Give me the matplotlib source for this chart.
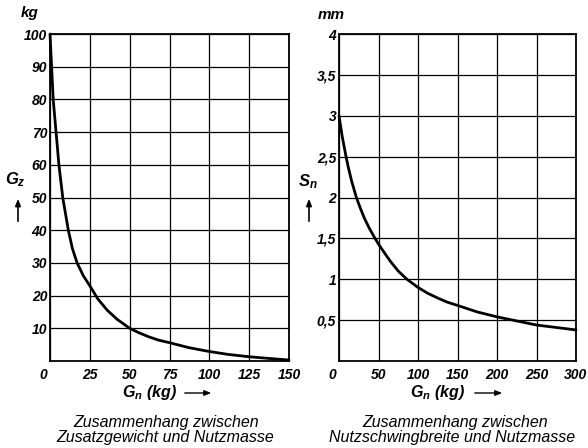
import matplotlib
matplotlib.use("Agg")
import matplotlib.pyplot as plt
import matplotlib.transforms as mtransforms

# Left chart: Zusatzgewicht G_z vs Nutzmasse G_n
gn_left = [0, 1, 2, 3.8, 5.6, 8, 11.5, 14, 17, 21, 25, 30, 36, 42, 50, 56, 62, 68, 75, 87, 100, 112, 125, 137, 150]
gz_left = [100, 90, 80, 70, 60, 50, 40, 34.5, 30, 26, 23, 19, 15.5, 12.8, 10, 8.6, 7.4, 6.4, 5.6, 4.1, 2.9, 2.0, 1.3, 0.8, 0.3]

# Right chart: Nutzschwingbreite S_n vs Nutzmasse G_n
gn_right = [0, 4, 8.9, 12, 16, 22, 27, 32, 38, 45.6, 50, 57, 65, 75, 86, 100, 112, 125, 137, 150, 175, 200, 225, 250, 275, 300]
sn_right = [3.0, 2.75, 2.5, 2.36, 2.2, 2.0, 1.87, 1.75, 1.63, 1.5, 1.43, 1.33, 1.22, 1.1, 1.0, 0.9, 0.83, 0.77, 0.72, 0.68, 0.6, 0.54, 0.49, 0.44, 0.41, 0.38]

xt_left = [0, 25, 50, 75, 100, 125, 150]
xtl_left = ["0", "25", "50", "75", "100", "125", "150"]
yt_left = [10, 20, 30, 40, 50, 60, 70, 80, 90, 100]
ytl_left = ["10", "20", "30", "40", "50", "60", "70", "80", "90", "100"]

xt_right = [0, 50, 100, 150, 200, 250, 300]
xtl_right = ["0", "50", "100", "150", "200", "250", "300"]
yt_right = [0.5, 1, 1.5, 2, 2.5, 3, 3.5, 4]
ytl_right = ["0,5", "1", "1,5", "2", "2,5", "3", "3,5", "4"]

plt.rcParams['font.family'] = ['Liberation Sans', 'DejaVu Sans']
plt.rcParams['mathtext.fontset'] = 'custom'
plt.rcParams['mathtext.it'] = 'Liberation Sans:italic:bold'
plt.rcParams['mathtext.rm'] = 'Liberation Sans:bold'

W, H = 588, 448
fig = plt.figure(figsize=(W / 100, H / 100), dpi=100)

tickfont = dict(fontsize=10, fontstyle='italic', fontweight='bold')

def setup(ax, xt, xtl, yt, ytl, xmax, ymax):
    ax.set_xlim(0, xmax)
    ax.set_ylim(0, ymax)
    ax.set_xticks(xt)
    ax.set_xticklabels(xtl, **tickfont)
    ax.set_yticks(yt)
    ax.set_yticklabels(ytl, **tickfont)
    ax.tick_params(length=0, pad=5)
    ax.tick_params(axis='y', pad=2)
    ax.grid(True, color='black', linewidth=0.9)
    ax.set_axisbelow(True)
    for s in ax.spines.values():
        s.set_linewidth(1.3)
    lab0 = ax.get_xticklabels()[0]
    lab0.set_transform(lab0.get_transform() + mtransforms.ScaledTranslation(-7 / 100, 0, fig.dpi_scale_trans))

ax1 = fig.add_axes([50 / W, 1 - 361 / H, 239 / W, 327 / H])
setup(ax1, xt_left, xtl_left, yt_left, ytl_left, 150, 100)
ax1.plot(gn_left, gz_left, color='black', linewidth=2.0, solid_capstyle='round', clip_on=False)

ax2 = fig.add_axes([339 / W, 1 - 361 / H, 237 / W, 327 / H])
setup(ax2, xt_right, xtl_right, yt_right, ytl_right, 300, 4)
ax2.plot(gn_right, sn_right, color='black', linewidth=2.0, solid_capstyle='round', clip_on=False)

def ftext(x, y, s, **kw):
    fig.text(x / W, 1 - y / H, s, **kw)

# unit labels
ftext(30, 13, "kg", fontsize=11, fontstyle='italic', fontweight='bold', ha='center', va='center')
ftext(331, 15, "mm", fontsize=11, fontstyle='italic', fontweight='bold', ha='center', va='center')

# y axis labels with arrows
ftext(15, 180, r"$G_z$", fontsize=12, ha='center', va='center')
ftext(308, 182, r"$S_n$", fontsize=12, ha='center', va='center')
for xa in (18, 309):
    fig.add_artist(matplotlib.patches.FancyArrowPatch(
        (xa / W, 1 - 224 / H), (xa / W, 1 - 196 / H), transform=fig.transFigure,
        arrowstyle='-|>,head_length=4,head_width=1.6', color='black', linewidth=1.2))

# x axis labels with arrows
ftext(177, 392, r"$G_n$ (kg)", fontsize=11.5, fontstyle='italic', fontweight='bold', ha='right', va='center')
ftext(465, 392, r"$G_n$ (kg)", fontsize=11.5, fontstyle='italic', fontweight='bold', ha='right', va='center')
for (x0, x1) in ((182, 214), (472, 505)):
    fig.add_artist(matplotlib.patches.FancyArrowPatch(
        (x0 / W, 1 - 393 / H), (x1 / W, 1 - 393 / H), transform=fig.transFigure,
        arrowstyle='-|>,head_length=4,head_width=1.6', color='black', linewidth=1.0))

# captions
capfont = dict(fontsize=11.5, fontstyle='italic', ha='center', va='center')
ftext(166, 422, "Zusammenhang zwischen", **capfont)
ftext(165, 437, "Zusatzgewicht und Nutzmasse", **capfont)
ftext(455, 422, "Zusammenhang zwischen", **capfont)
ftext(452, 437, "Nutzschwingbreite und Nutzmasse", **capfont)

fig.savefig("out.png", dpi=100)
